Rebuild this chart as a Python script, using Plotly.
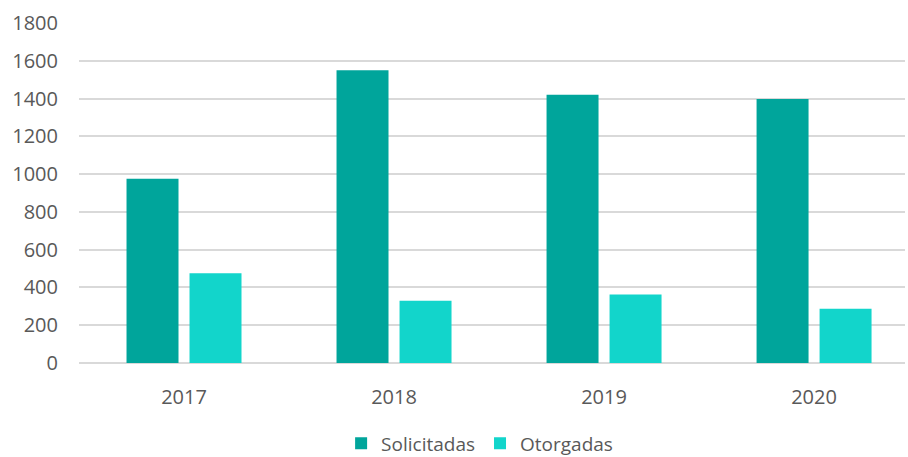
import plotly.graph_objects as go

years = ["2017", "2018", "2019", "2020"]
solicitadas = [975, 1550, 1420, 1398]
otorgadas = [475, 330, 363, 287]
y_ticks = [0, 200, 400, 600, 800, 1000, 1200, 1400, 1600, 1800]

font_color = "#595959"
fam = "Open Sans"

fig = go.Figure()
fig.add_trace(go.Bar(x=years, y=solicitadas, name="Solicitadas",
                     marker=dict(color="#00A59B", line=dict(width=0))))
fig.add_trace(go.Bar(x=years, y=otorgadas, name="Otorgadas",
                     marker=dict(color="#12D5CB", line=dict(width=0))))

fig.update_layout(
    width=908, height=457,
    margin=dict(l=79, r=3, t=23, b=94, autoexpand=False),
    paper_bgcolor="white", plot_bgcolor="white",
    barmode="group", bargap=0.4, bargroupgap=0.175,
    font=dict(family=fam, color=font_color, size=19),
    legend=dict(orientation="h", x=0.485, xanchor="center",
                yref="container", y=0.03, yanchor="middle",
                font=dict(size=19, color=font_color), itemwidth=30,
                traceorder="normal"),
    showlegend=True,
)
fig.update_xaxes(range=[-0.5, 3.433], showgrid=False, showline=False,
                 automargin=False,
                 ticks="outside", ticklen=16, tickcolor="rgba(0,0,0,0)",
                 tickfont=dict(size=20, color=font_color))
fig.update_yaxes(range=[0, 1800], tickvals=y_ticks, showgrid=True,
                 automargin=False,
                 gridcolor="#D9D9D9", gridwidth=2, zeroline=True,
                 zerolinecolor="#D9D9D9", zerolinewidth=2,
                 ticks="outside", ticklen=16, tickcolor="rgba(0,0,0,0)",
                 tickfont=dict(size=20, color=font_color))

fig.write_html("out.html", config={"displayModeBar": False},
               post_script="document.body.style.margin='0px';document.body.style.overflow='hidden';")
